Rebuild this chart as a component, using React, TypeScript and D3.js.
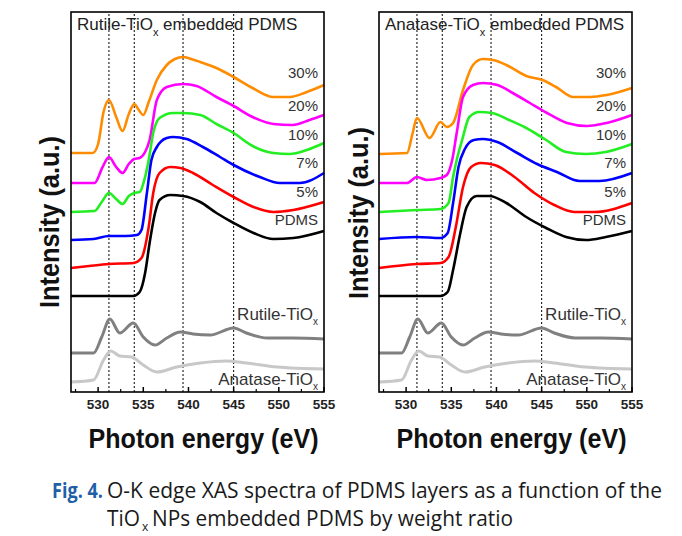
import React from "react";
import * as d3 from "d3";

type Pt = [number, number];

// ---------- data ----------
const energyTicks = [530, 535, 540, 545, 550, 555];
const minorTicks = [527.5, 532.5, 537.5, 542.5, 547.5, 552.5];
const refLines = [531.2, 534.0, 539.4, 545.0];
const seriesLabels = ["30%", "20%", "10%", "7%", "5%", "PDMS"];
const seriesColors = ["#ff8c00", "#ff00ff", "#22ee22", "#0000ff", "#ff0000", "#000000"];

// Rutile-TiOx embedded PDMS
const rut30: Pt[] = [[527,239],[529.4,239],[530.0,248],[530.6,280],[531.2,292],[532.0,275],[532.7,261],[533.4,278],[534.0,288],[534.5,282],[535.0,277],[535.6,290],[536.5,312],[537.6,327],[538.5,333],[539.4,335],[540.3,333],[541.3,330],[543.1,324],[545.0,315],[547.1,304],[549.4,295],[551.2,295],[553.1,300],[555,307]];
const rut20: Pt[] = [[527,209],[529.6,209],[530.5,225],[531.2,235],[532.0,225],[532.7,219],[533.4,228],[534.0,233],[534.6,234],[535.2,240],[535.7,252],[536.5,292],[537.6,305],[539.4,308],[540.9,306],[543.1,295],[545.0,286],[547.1,275],[549.4,268],[551.5,267],[553.4,272],[555,277]];
const rut10: Pt[] = [[527,180],[529.6,181],[530.4,190],[531.2,199],[532.0,193],[532.7,188],[533.4,196],[534.0,199],[534.6,200],[535.2,215],[535.6,232],[536.1,259],[536.8,274],[538.3,279],[539.4,279],[541.3,277],[543.1,268],[545.0,259],[547.1,246],[549.4,239],[551.2,238],[553.1,242],[555,249]];
const rut7: Pt[] = [[527,152],[529.5,153],[531.2,156],[533.0,156],[534.3,157],[534.8,162],[535.4,199],[535.9,232],[536.5,245],[537.6,254],[538.3,255],[539.8,253],[541.6,245],[543.5,235],[545.0,227],[547.9,215],[550.1,209],[552.3,209],[555,219]];
const rut5: Pt[] = [[527,124],[529,126],[531.2,128],[533.9,129],[534.8,134],[535.6,165],[536.1,199],[536.8,219],[538.0,225],[539.1,224],[540.5,219],[542.7,207],[545.0,195],[547.2,185],[549.4,180],[551.6,182],[555,190]];
const pdmsL: Pt[] = [[527,96],[533.9,96],[534.6,100],[535.2,119],[535.7,149],[536.3,179],[536.8,192],[538.0,197],[539.4,196],[541.3,190],[543.1,179],[545.0,169],[547.2,159],[549.4,153],[551.6,154],[555,161]];

// Anatase-TiOx embedded PDMS
const ana30: Pt[] = [[527,238],[530.1,239],[530.7,258],[531.2,274],[532.6,254],[533.8,270],[534.5,265],[535.2,269],[536.3,302],[537.4,327],[538.5,333],[539.6,332],[541.1,327],[543.3,316],[545.1,312],[546.6,305],[548.5,295],[550.4,295],[552.2,297],[555,304]];
const ana20: Pt[] = [[527,209],[530.1,209],[531.2,215],[532.3,212],[533.8,214],[534.5,217],[535.1,232],[535.6,259],[536.3,295],[537.4,307],[538.5,309],[540.1,307],[541.8,299],[543.7,289],[545.6,279],[547.8,269],[550.0,266],[552.2,269],[555,277]];
const ana10: Pt[] = [[527,180],[531.2,182],[533.8,183],[534.7,189],[535.2,215],[535.6,232],[536.2,252],[537.0,275],[538.1,280],[539.5,279],[541.4,272],[543.3,264],[545.5,252],[547.7,240],[549.9,238],[552.1,240],[555,248]];
const ana7: Pt[] = [[527,153],[531.2,155],[533.8,154],[534.6,159],[535.2,189],[535.8,225],[536.5,243],[537.5,252],[538.5,253],[540.1,250],[542.3,239],[544.5,228],[546.7,220],[549.2,211],[551.4,211],[555,219]];
const ana5: Pt[] = [[527,124],[531.2,128],[533.8,129],[534.7,135],[535.5,165],[536.3,205],[537.2,225],[538.3,229],[539.8,227],[542.0,215],[544.2,199],[546.4,187],[548.6,180],[550.8,180],[555,189]];
const pdmsR: Pt[] = [[527,96],[533.8,96],[534.6,100],[535.2,122],[536.0,159],[536.7,185],[537.8,196],[539.2,196],[541.1,189],[543.3,175],[545.5,164],[547.7,155],[549.9,152],[552.1,155],[555,161]];

// Reference spectra
const rutileRef: Pt[] = [[527,39],[529.5,39],[530.4,55],[531.3,73],[532.4,59],[533.9,69],[535.0,55],[536.3,47],[537.6,54],[539.1,60],[540.5,58],[542.4,57],[545.0,64],[546.4,59],[548.7,54],[551.6,54],[555,53]];
const anataseRef: Pt[] = [[527,10],[529.5,12],[530.6,32],[531.4,41],[532.4,36],[533.7,35],[535.0,27],[536.5,20],[538.7,25],[541.3,29],[544.2,31],[546.4,29],[549.8,25],[555,23]];

const panels = [
  { title: "Rutile-TiO", series: [rut30, rut20, rut10, rut7, rut5, pdmsL] },
  { title: "Anatase-TiO", series: [ana30, ana20, ana10, ana7, ana5, pdmsR] },
];

// ---------- layout ----------
const W = 682, H = 536;
const panelLefts = [71, 379];
const panelW = 253;
const top = 12, bottom = 392;
const labelY = [78, 111, 140, 168, 197, 225];
const FONT = "'Liberation Sans', Arial, Helvetica, sans-serif";

function Panel({ idx }: { idx: number }) {
  const p = panels[idx];
  const left = panelLefts[idx];
  const right = left + panelW;
  const x = d3.scaleLinear().domain([527, 555]).range([left, right]);
  const y = d3.scaleLinear().domain([0, 380]).range([bottom, top]);
  const line = d3.line<Pt>().x(d => x(d[0])).y(d => y(d[1])).curve(d3.curveMonotoneX);
  const ylabX = idx === 0 ? 59 : 368;
  const ylabY = idx === 0 ? 222 : 213;
  return (
    <g>
      {refLines.map((e, i) => (
        <line key={"r" + i} x1={x(e)} x2={x(e)} y1={top + 2} y2={bottom} stroke="#000" strokeWidth={1} strokeDasharray="2,2" />
      ))}
      <text x={left + 6} y={30} fontFamily={FONT} fontSize={17} fill="#222">
        <tspan>{p.title}</tspan>
        <tspan fontSize={11} dy={6}>x</tspan>
        <tspan dy={-6}> embedded PDMS</tspan>
      </text>
      <path d={line(anataseRef) || ""} fill="none" stroke="#c8c8c8" strokeWidth={3} />
      <path d={line(rutileRef) || ""} fill="none" stroke="#808080" strokeWidth={3} />
      {p.series.map((s, i) => (
        <path key={"s" + i} d={line(s) || ""} fill="none" stroke={seriesColors[i]} strokeWidth={2.6} strokeLinejoin="round" />
      ))}
      {seriesLabels.map((lab, i) => (
        <text key={"l" + i} x={right - 6} y={labelY[i]} textAnchor="end" fontFamily={FONT} fontSize={15} fill="#333">{lab}</text>
      ))}
      <text x={right - 6} y={320} textAnchor="end" fontFamily={FONT} fontSize={17} fill="#333">
        Rutile-TiO<tspan fontSize={10} dy={5}>x</tspan>
      </text>
      <text x={right - 6} y={385} textAnchor="end" fontFamily={FONT} fontSize={17} fill="#333">
        Anatase-TiO<tspan fontSize={10} dy={5}>x</tspan>
      </text>
      {energyTicks.map((t, i) => (
        <g key={"t" + i}>
          <line x1={x(t)} x2={x(t)} y1={bottom} y2={bottom - 5} stroke="#000" strokeWidth={1.5} />
          <text x={x(t)} y={409} textAnchor="middle" fontFamily={FONT} fontWeight="bold" fontSize={13.5} fill="#222">{t}</text>
        </g>
      ))}
      {minorTicks.map((t, i) => (
        <line key={"m" + i} x1={x(t)} x2={x(t)} y1={bottom} y2={bottom - 3} stroke="#000" strokeWidth={1.2} />
      ))}
      <rect x={left} y={top} width={panelW} height={bottom - top} fill="none" stroke="#000" strokeWidth={1.6} />
      <text x={left + panelW / 2 + 6} y={448} textAnchor="middle" fontFamily={FONT} fontWeight="bold" fontSize={27} textLength={230} lengthAdjust="spacingAndGlyphs" fill="#111">Photon energy (eV)</text>
      <text transform={`translate(${ylabX},${ylabY}) rotate(-90)`} textAnchor="middle" fontFamily={FONT} fontWeight="bold" fontSize={28} textLength={172} lengthAdjust="spacingAndGlyphs" fill="#111">Intensity (a.u.)</text>
    </g>
  );
}

export default function App() {
  const capFont = "'Open Sans', 'Noto Sans', sans-serif";
  return (
    <svg width={W} height={H} style={{ position: "absolute", left: 0, top: 0, background: "#fff" }}>
      <rect x={0} y={0} width={W} height={H} fill="#fff" />
      <Panel idx={0} />
      <Panel idx={1} />
      <text x={52} y={498} fontFamily={capFont} fontWeight="bold" fontSize={21} fill="#1f5fa8" textLength={51} lengthAdjust="spacingAndGlyphs">Fig. 4.</text>
      <text x={107} y={498} fontFamily={capFont} fontSize={21} fill="#1a1a1a" textLength={555} lengthAdjust="spacingAndGlyphs">O-K edge XAS spectra of PDMS layers as a function of the</text>
      <text x={107} y={526} fontFamily={capFont} fontSize={21} fill="#1a1a1a" textLength={33} lengthAdjust="spacingAndGlyphs">TiO</text>
      <text x={142} y={531} fontFamily={capFont} fontSize={12} fill="#1a1a1a">x</text>
      <text x={152} y={526} fontFamily={capFont} fontSize={21} fill="#1a1a1a" textLength={361} lengthAdjust="spacingAndGlyphs">NPs embedded PDMS by weight ratio</text>
    </svg>
  );
}
